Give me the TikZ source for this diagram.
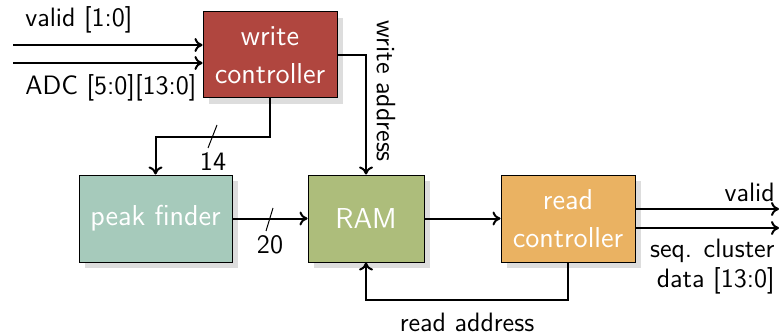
\documentclass[tikz,border=0pt]{standalone}
\usetikzlibrary{shadows,arrows.meta}
\definecolor{wcred}{HTML}{B0463F}
\definecolor{pfteal}{HTML}{A6CABB}
\definecolor{ramgreen}{HTML}{ADBD7B}
\definecolor{rcorange}{HTML}{EAB262}
\definecolor{shadowgray}{HTML}{DDDDDD}
\begin{document}
\begin{tikzpicture}[x=0.5pt,y=-0.5pt,
  font=\sffamily\fontsize{13.3}{15}\selectfont,
  blk/.style={draw=black, line width=0.5pt, text=white, align=center, inner sep=0pt,
    font=\sffamily\fontsize{14.4}{19}\selectfont,
    drop shadow={shadow xshift=3pt, shadow yshift=-3pt, fill=shadowgray, opacity=1}},
  wire/.style={line width=1pt},
  arr/.style={wire, -{To[length=4pt,width=7pt]}},
  lbl/.style={inner sep=0pt, text=black}]
\useasboundingbox (0,0) rectangle (779,336);
% blocks
\node[blk, fill=wcred, minimum width=67pt, minimum height=43pt] (wc) at (270,55) {write\\controller};
\node[blk, fill=pfteal, minimum width=76.5pt, minimum height=43.5pt] (pf) at (155.5,218.5) {peak finder};
\node[blk, fill=ramgreen, minimum width=58pt, minimum height=43.5pt] (ram) at (366,218.5) {RAM};
\node[blk, fill=rcorange, minimum width=67pt, minimum height=43.5pt] (rc) at (568,218.5) {read\\controller};
% input coordinates
\coordinate (in1) at (13,45);
\coordinate (in2) at (13,63);
\coordinate (out1) at (779,209);
\coordinate (out2) at (779,228);
% inputs
\draw[arr] (in1) -- (in1 -| wc.west);
\draw[arr] (in2) -- (in2 -| wc.west);
\node[lbl, anchor=west] (lvalid) at (25,20) {valid [1:0]};
\node[lbl, anchor=west] (ladc) at (25,88) {ADC [5:0][13:0]};
% write controller to peak finder
\coordinate (bend1) at (270,137);
\draw[arr] (wc.south) -- (bend1) -| (pf.north);
\coordinate (s1a) at (217,125);
\coordinate (s1b) at (208,148);
\draw[line width=0.5pt] (s1a) -- (s1b);
\node[lbl] (l14) at (213,162) {14};
% write address
\coordinate (wa) at (ram.north |- wc.east);
\draw[arr] (wc.east) -- (wa) -- (ram.north);
\node[lbl, rotate=-90] (lwa) at (386,91) {write address};
% peak finder to RAM
\draw[arr] (pf.east) -- (ram.west);
\coordinate (s2a) at (273,208);
\coordinate (s2b) at (266,231);
\draw[line width=0.5pt] (s2a) -- (s2b);
\node[lbl] (l20) at (270,245) {20};
% RAM to read controller
\draw[arr] (ram.east) -- (rc.west);
% read address
\coordinate (rb) at (568,300);
\coordinate (rb2) at (ram.south |- rb);
\draw[arr] (rc.south) -- (rb) -- (rb2) -- (ram.south);
\node[lbl] (lra) at (467,322) {read address};
% outputs
\draw[arr] (out1 -| rc.east) -- (out1);
\draw[arr] (out2 -| rc.east) -- (out2);
\node[lbl, anchor=east] (lv2) at (775,192) {valid};
\node[lbl, anchor=east, align=right] (lseq) at (775,267) {seq. cluster\\data [13:0]};
\end{tikzpicture}
\end{document}
